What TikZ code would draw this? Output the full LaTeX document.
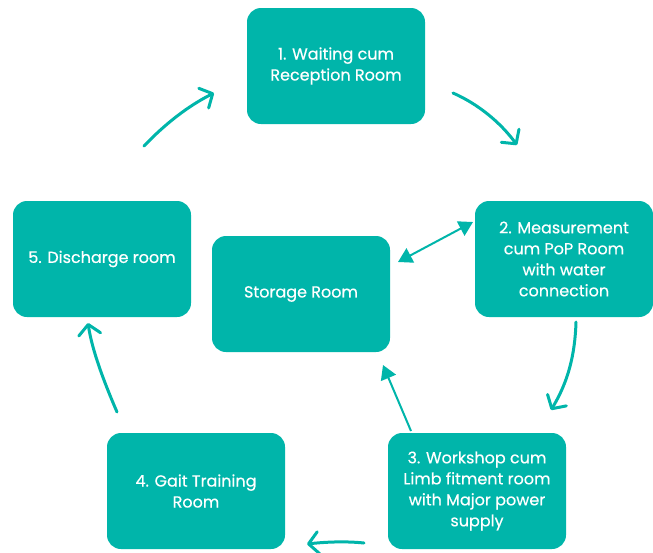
\documentclass[tikz,border=0pt]{standalone}
\usepackage{fontspec}
\setmainfont{Poppins}
\newfontfamily\roomfont{Poppins}[FakeBold=0.4]
\usetikzlibrary{arrows.meta}
\definecolor{teal}{RGB}{0,181,170}
\tikzset{
  room/.style={draw=none, fill=teal, rounded corners=14pt, minimum width=178pt,
    minimum height=116pt, text=white, align=center, inner sep=0pt,
    font=\roomfont\fontsize{16}{21}\selectfont},
  flow/.style={draw=teal, line width=3pt, line cap=round,
    -{Straight Barb[length=10pt, width=22pt, line width=3pt, round]}},
  link/.style={draw=teal, line width=2pt,
    -{Triangle[length=14pt, width=16pt]}},
  twoway/.style={draw=teal, line width=2pt,
    {Triangle[length=14pt, width=16pt]}-{Triangle[length=14pt, width=16pt]}},
}
\begin{document}
\begin{tikzpicture}[x=1pt, y=-1pt]
  \useasboundingbox (0,0) rectangle (653,552);

  % rooms
  \node[room] (waiting)   at (336,66)  {1. Waiting cum\\Reception Room};
  \node[room] (measure)   at (564,259) {2. Measurement\\cum PoP Room\\with water\\connection};
  \node[room] (workshop)  at (477,491) {3. Workshop cum\\Limb fitment room\\with Major power\\supply};
  \node[room] (gait)      at (196,491) {4. Gait Training\\Room};
  \node[room] (discharge) at (102,259) {5. Discharge room};
  \node[room] (storage)   at (301,294) {Storage Room};

  % free ends of the cycle arrows
  \coordinate (a1s) at (144,146); \coordinate (a1e) at (214,93);
  \coordinate (a2s) at (453,93);  \coordinate (a2e) at (517,145);
  \coordinate (a4s) at (576,322); \coordinate (a4e) at (551,410);
  \coordinate (a6s) at (364,543); \coordinate (a6e) at (307,544);
  \coordinate (a7s) at (117,412); \coordinate (a7e) at (88,323);
  \coordinate (sts) at (398,262); \coordinate (ste) at (473,222);
  \coordinate (wks) at (411,431); \coordinate (wke) at (383,365);

  % cycle between the rooms
  \draw[flow] (a1s) .. controls (165,124) and (188,106) .. (a1e);
  \draw[flow] (a2s) .. controls (478,104) and (500,122) .. (a2e);
  \draw[flow] (a4s) .. controls (575,355) and (568,382) .. (a4e);
  \draw[flow] (a6s) .. controls (345,541) and (325,542) .. (a6e);
  \draw[flow] (a7s) .. controls (104,382) and (92,350) .. (a7e);

  % links with the storage room
  \draw[twoway] (sts) -- (ste);
  \draw[link] (wks) -- (wke);
\end{tikzpicture}
\end{document}
